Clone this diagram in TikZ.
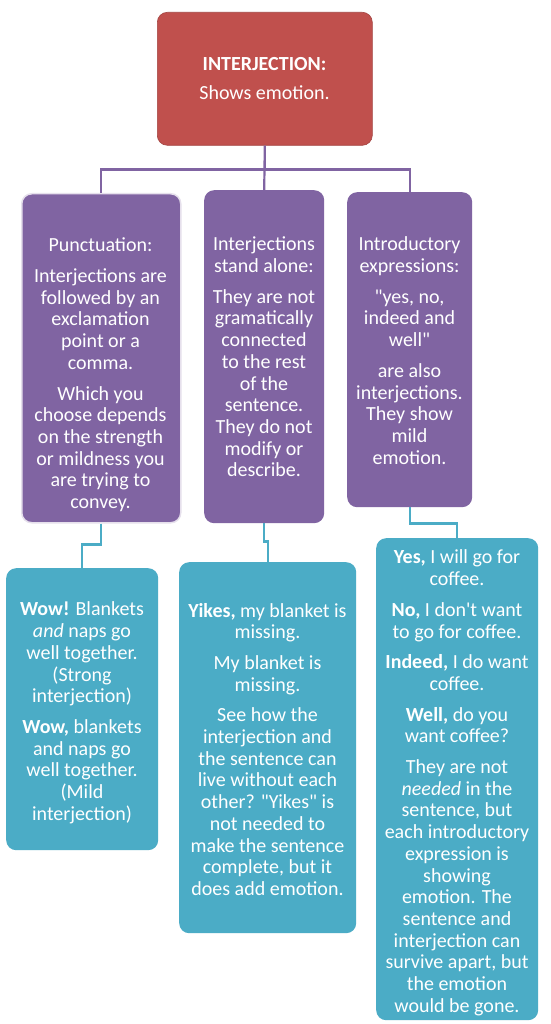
\documentclass[tikz,border=0pt]{standalone}
\usepackage{fontspec}
\setmainfont{Carlito}[Ligatures=TeXOff]
\definecolor{ired}{HTML}{C0504D}
\definecolor{ipurple}{HTML}{8064A2}
\definecolor{iblue}{HTML}{4BACC6}
\tikzset{
  box/.style={rounded corners=10pt, inner sep=0pt, anchor=north west},
  redbox/.style={box, fill=ired, draw=ired!85!black, line width=0.6pt},
  purplebox/.style={box, fill=ipurple},
  bluebox/.style={box, fill=iblue},
  txt/.style={text=white, align=center, font=\fontsize{20}{21.7}\selectfont, inner sep=0pt, anchor=north, yshift=5.19pt, execute at begin node=\strut},
  pline/.style={draw=ipurple, line width=2.2pt},
  bline/.style={draw=iblue, line width=2.2pt},
}
\begin{document}
\begin{tikzpicture}[x=1pt,y=-1pt]
\fill[white] (0,0) rectangle (550,1024);
\useasboundingbox (0,0) rectangle (550,1024);
% boxes
\node[redbox, minimum width=215pt, minimum height=133pt] (top) at (157,12) {};
\node[purplebox, draw=white!80!ipurple, line width=1.5pt, minimum width=159pt, minimum height=329pt] (p1) at (21,193) {};
\node[purplebox, minimum width=120pt, minimum height=333pt] (p2) at (204,190) {};
\node[purplebox, minimum width=125pt, minimum height=315pt] (p3) at (347,192) {};
\node[bluebox, minimum width=152pt, minimum height=282pt] (b1) at (6,568) {};
\node[bluebox, minimum width=177pt, minimum height=371pt] (b2) at (179,562) {};
\node[bluebox, minimum width=162pt, minimum height=482pt] (b3) at (376,538) {};
% connectors
\draw[pline] (top.south) -- ++(0,24) -| (p1.north);
\draw[pline] (top.south) -- ++(0,24) -| (p3.north);
\draw[pline] (top.south) -- (p2.north);
\draw[bline] (p1.south) -- ++(0,21) -| (b1.north);
\draw[bline] (p2.south) -- ++(0,18) -| (b2.north);
\draw[bline] (p3.south) -- ++(0,16) -| (b3.north);
% texts
\node[txt] (ttop) at (264.5,62) {\textbf{INTERJECTION:}\\[8pt]Shows emotion.};
\node[txt] (tp1) at (100.5,243) {Punctuation:\\[9pt]Interjections are\\followed by an\\exclamation\\point or a\\comma.\\[9pt]Which you\\choose depends\\on the strength\\or mildness you\\are trying to\\convey.};
\node[txt] (tp2) at (264,242) {Interjections\\stand alone:\\[9pt]They are not\\gramatically\\connected\\to the rest\\of the\\sentence.\\They do not\\modify or\\describe.};
\node[txt] (tp3) at (409.5,242) {Introductory\\expressions:\\[9pt]"yes, no,\\indeed and\\well"\\[9pt]are also\\interjections.\\They show\\mild\\emotion.};
\node[txt] (tb1) at (82,607) {\textbf{Wow!} Blankets\\\textit{and} naps go\\well together.\\(Strong\\interjection)\\[9pt]\textbf{Wow,} blankets\\and naps go\\well together.\\(Mild\\interjection)};
\node[txt] (tb2) at (267.5,608) {\textbf{Yikes,} my blanket is\\missing.\\[9pt]My blanket is\\missing.\\[9pt]See how the\\interjection and\\the sentence can\\live without each\\other? "Yikes" is\\not needed to\\make the sentence\\complete, but it\\does add emotion.};
\node[txt] (tb3) at (457,555) {\textbf{Yes,} I will go for\\coffee.\\[9pt]\textbf{No,} I don't want\\to go for coffee.\\[9pt]\textbf{Indeed,} I do want\\coffee.\\[9pt]\textbf{Well,} do you\\want coffee?\\[9pt]They are not\\\textit{needed} in the\\sentence, but\\each introductory\\expression is\\showing\\emotion. The\\sentence and\\interjection can\\survive apart, but\\the emotion\\would be gone.};
\end{tikzpicture}
\end{document}
